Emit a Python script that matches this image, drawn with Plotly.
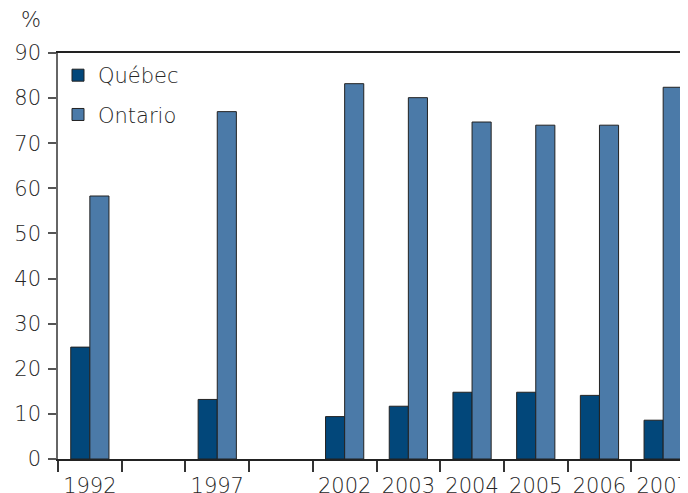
import plotly.graph_objects as go

categories = ["1992", "", "1997", "", "2002", "2003", "2004", "2005", "2006", "2007"]
quebec = [24.8, None, 13.2, None, 9.4, 11.7, 14.8, 14.8, 14.1, 8.6]
ontario = [58.3, None, 77.0, None, 83.2, 80.1, 74.7, 74.0, 74.0, 82.4]
y_ticks = [0, 10, 20, 30, 40, 50, 60, 70, 80, 90]

FONT = "DejaVu Sans"
TXT = "#262626"
FS = 21
xpos = list(range(len(categories)))
label_pos = [i for i, c in enumerate(categories) if c]
label_txt = [c for c in categories if c]

fig = go.Figure()
fig.add_trace(go.Bar(x=xpos, y=quebec, name="Québec", legendgroup="q",
                     marker=dict(color="#02477A", line=dict(color="#222222", width=1))))
fig.add_trace(go.Bar(x=xpos, y=ontario, name="Ontario", legendgroup="o",
                     marker=dict(color="#4B7AA8", line=dict(color="#222222", width=1))))

fig.update_layout(
    width=680, height=485,
    margin=dict(l=50, r=0, t=45, b=34, autoexpand=False),
    plot_bgcolor="white", paper_bgcolor="white",
    barmode="group", bargap=0.4, bargroupgap=0,
    font=dict(family=FONT, size=FS, color=TXT, weight=300),
    legend=dict(x=0.0, y=0.995, xanchor="left", yanchor="top",
                font=dict(size=FS, color=TXT, weight=300), tracegroupgap=9,
                bgcolor="rgba(0,0,0,0)"),
    xaxis=dict(range=[-0.5, 9.39], tickmode="array", tickvals=label_pos, ticktext=label_txt,
               ticks="outside", ticklen=1, tickcolor="rgba(0,0,0,0)", automargin=False,
               ticklabeloverflow="allow",
               showline=True, linecolor="#222222", linewidth=1.5, mirror=True,
               showgrid=False, zeroline=False, ticklabelstandoff=6,
               minor=dict(ticks="outside", ticklen=11, tickcolor="#333333", tickwidth=1.5,
                          tick0=-0.5, dtick=1, showgrid=False),
               tickfont=dict(size=FS, color=TXT, weight=300)),
    yaxis=dict(range=[0, 90], tickmode="array", tickvals=y_ticks, automargin=False,
               ticks="outside", ticklen=8, tickcolor="#555555", tickwidth=1.5,
               showline=True, linecolor="#666666", linewidth=1.5,
               showgrid=False, zeroline=False, ticklabelstandoff=3,
               tickfont=dict(size=FS, color=TXT, weight=300)),
    annotations=[dict(text="%", x=-0.043, y=1.047, xref="paper", yref="paper",
                      xanchor="center", yanchor="bottom", showarrow=False,
                      font=dict(size=FS, color=TXT, weight=300))],
)

fig.write_html("out.html")
